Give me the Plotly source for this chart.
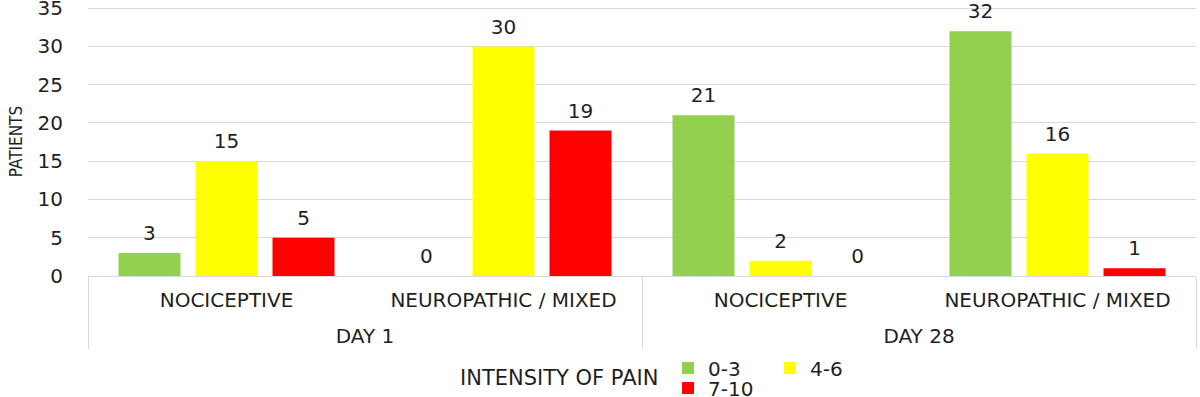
import plotly.graph_objects as go

days = ["DAY 1", "DAY 1", "DAY 28", "DAY 28"]
pain_types = ["NOCICEPTIVE", "NEUROPATHIC / MIXED", "NOCICEPTIVE", "NEUROPATHIC / MIXED"]
series_names = ["0-3", "4-6", "7-10"]
values_0_3 = [3, 0, 21, 32]
values_4_6 = [15, 30, 2, 16]
values_7_10 = [5, 19, 0, 1]
colors = ["#92D050", "#FFFF00", "#FF0000"]
y_ticks = [0, 5, 10, 15, 20, 25, 30, 35]
legend_title = "INTENSITY OF PAIN"

FONT = "DejaVu Sans"
FS = 20
TXT = "#1F1F1F"
GRID = "#D9D9D9"
GAP = 0.166
# a tall hair space on each side of the inner labels widens the gap to the outer labels
PAD = '<span style="font-size:35px">\u200a</span>'
inner_labels = [PAD + p + PAD for p in pain_types]

fig = go.Figure()
all_vals = [values_0_3, values_4_6, values_7_10]
for name, vals, col, leg in zip(series_names, all_vals, colors, ["legend", "legend", "legend2"]):
    fig.add_trace(go.Bar(
        x=[days, inner_labels], y=vals, name=name,
        marker=dict(color=col, line=dict(width=0)),
        legend=leg, hoverinfo="y+name",
    ))
# value labels above bars (grouped invisible markers so labels sit over their bars)
for name, vals in zip(series_names, all_vals):
    fig.add_trace(go.Scatter(
        x=[days, inner_labels], y=vals, mode="markers+text", name=name,
        text=[str(v) for v in vals], textposition="top center",
        textfont=dict(family=FONT, size=FS, color=TXT),
        marker=dict(size=11, opacity=0), showlegend=False, cliponaxis=False,
        hoverinfo="skip",
    ))

fig.add_annotation(
    text=legend_title, xref="paper", yref="paper", x=0.516, y=-0.379,
    xanchor="right", yanchor="middle", showarrow=False,
    font=dict(family=FONT, size=21, color=TXT),
)

fig.update_layout(
    width=1200, height=397,
    margin=dict(l=88, r=4, t=7, b=121, autoexpand=False),
    paper_bgcolor="white", plot_bgcolor="white",
    barmode="group", bargap=GAP, bargroupgap=0.195,
    scattermode="group", scattergap=GAP,
    font=dict(family=FONT, size=FS, color=TXT),
    xaxis=dict(
        type="multicategory", showgrid=False, showline=True, linecolor=GRID, linewidth=1,
        showdividers=True, dividercolor=GRID, dividerwidth=1,
        tickfont=dict(family=FONT, size=FS, color=TXT), ticks="", automargin=False,
        ticklabelstandoff=6,
    ),
    yaxis=dict(
        range=[0, 35.157], tickvals=y_ticks, showgrid=True, gridcolor=GRID, gridwidth=1,
        zeroline=False, showline=False, ticks="", ticklabelstandoff=24, automargin=False,
        ticklabeloverflow="allow",
        tickfont=dict(family=FONT, size=FS, color=TXT),
        title=dict(text="PATIENTS", font=dict(family="DejaVu Sans Condensed, Open Sans", size=17, color=TXT), standoff=10),
    ),
    legend=dict(
        orientation="h", x=0.5235, y=-0.342, xanchor="left", yanchor="middle",
        font=dict(family=FONT, size=FS, color=TXT), bgcolor="rgba(0,0,0,0)",
        tracegroupgap=0, entrywidth=57,
    ),
    legend2=dict(
        orientation="h", x=0.5235, y=-0.416, xanchor="left", yanchor="middle",
        font=dict(family=FONT, size=FS, color=TXT), bgcolor="rgba(0,0,0,0)",
        entrywidth=57,
    ),
    showlegend=True,
)

fig.write_html("out.html", config={"displayModeBar": False},
               post_script="document.body.style.margin='0';")
